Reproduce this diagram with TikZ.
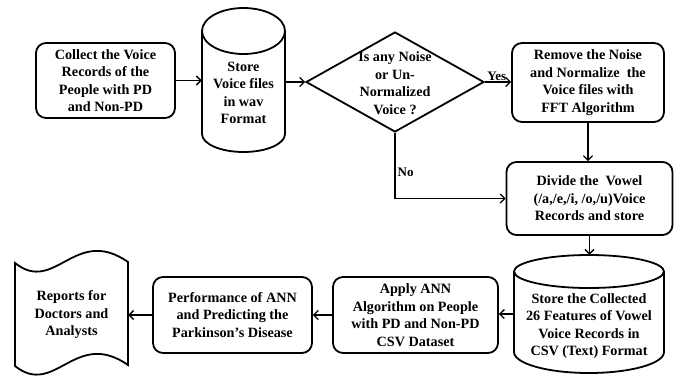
\documentclass[tikz,border=0pt]{standalone}
\usepackage{fontspec}
\setmainfont{Liberation Serif}
\usetikzlibrary{arrows.meta,shapes.geometric,calc}
\begin{document}
\begin{tikzpicture}[x=1pt,y=-1pt,
  every node/.style={font=\fontsize{14.2}{17.5}\selectfont\bfseries, align=center},
  box/.style={draw, line width=1.8pt, rounded corners=10pt, inner sep=0pt},
  plain/.style={inner sep=0pt},
  outline/.style={line width=1.8pt},
  arr/.style={line width=1.3pt, -{Straight Barb[length=4.5pt,width=9pt]}},
  lbl/.style={font=\fontsize{13}{15}\selectfont\bfseries, inner sep=1pt}]
\useasboundingbox (0,0) rectangle (682,375);
\fill[white] (0,0) rectangle (682,375);

% process boxes
\node[box, minimum width=139pt, minimum height=75pt] (collect) at (105.5,80.5)
  {Collect the Voice\\Records of the\\People with PD\\and Non-PD};
\node[box, minimum width=152pt, minimum height=79pt] (rem) at (588,82.5)
  {Remove the Noise\\and Normalize\ \ the\\Voice files with\\FFT Algorithm};
\node[box, minimum width=166pt, minimum height=73pt] (div) at (589.5,198.5)
  {Divide the\ \ Vowel\\(/a,/e,/i, /o,/u)Voice\\Records and store};
\node[box, minimum width=165pt, minimum height=76pt] (apply) at (415.5,315)
  {Apply ANN\\Algorithm on People\\with PD and Non-PD\\CSV Dataset};
\node[box, minimum width=159pt, minimum height=76pt] (perf) at (232.5,315)
  {Performance of ANN\\and Predicting the\\Parkinson’s Disease};

% decision
\node[diamond, draw, line width=1.8pt, minimum width=178pt, minimum height=100pt, inner sep=0pt] (dec) at (395,82) {};
\node[plain] (dect) at (395,83) {Is any Noise\\or Un-\\Normalized\\Voice ?};

% cylinder 1
\node[plain, minimum width=83pt, minimum height=144pt] (st1) at (243.5,80) {};
\node[plain] (st1t) at (243.5,93) {Store\\Voice files\\in wav\\Format};
\draw[outline] (202,31) -- (202,134) arc[start angle=180, end angle=0, x radius=41.5, y radius=18] -- (285,31);
\draw[outline] (243.5,31) ellipse [x radius=41.5, y radius=23];

% cylinder 2
\node[plain, minimum width=150pt, minimum height=118pt] (st2) at (589,314) {};
\node[plain] (st2t) at (589,326) {Store the Collected\\26 Features of Vowel\\Voice Records in\\CSV (Text) Format};
\draw[outline] (514,271.5) -- (514,352) arc[start angle=180, end angle=0, x radius=75, y radius=21] -- (664,271.5);
\draw[outline] (589,271.5) ellipse [x radius=75, y radius=16.5];

% report document shape
\node[plain, minimum width=113pt, minimum height=110pt] (rep) at (71.5,315) {Reports for\\Doctors and\\Analysts};
\draw[outline] (15,263) .. controls (55,295) and (75,225) .. (128,262)
  -- (128,365) .. controls (75,328) and (55,398) .. (15,366) -- cycle;

% connectors
\draw[arr] (collect.east) -- (collect.east -| st1.west);
\draw[arr] (st1.east |- dec.west) -- (dec.west);
\draw[arr] (dec.east) -- node[lbl, above, pos=0.45] {Yes} (dec.east -| rem.west);
\draw[arr] (rem.south) -- (rem.south |- div.north);
\draw[arr] (dec.south) -- node[lbl, right, pos=0.6, xshift=1pt] {No} (dec.south |- div.west) -- (div.west);
\draw[arr] (div.south) -- (div.south |- st2.north);
\draw[arr] (st2.west) -- (st2.west -| apply.east);
\draw[arr] (apply.west) -- (apply.west -| perf.east);
\draw[arr] (perf.west) -- (perf.west -| rep.east);
\end{tikzpicture}
\end{document}
